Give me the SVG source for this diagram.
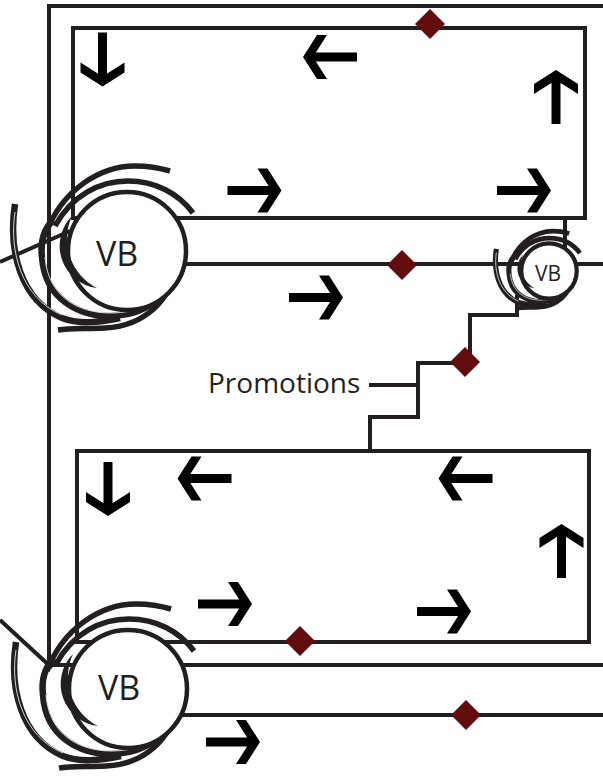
<svg xmlns="http://www.w3.org/2000/svg" xmlns:xlink="http://www.w3.org/1999/xlink" width="603" height="776" viewBox="0 0 603 776">
<style>
.ln{fill:none;stroke:#231f20;stroke-width:4}
.box{fill:none;stroke:#231f20;stroke-width:4}
.sw{fill:none;stroke:#231f20;stroke-width:var(--sw,5.5)}
.swd{fill:none;stroke:#231f20;stroke-width:var(--swd,6.5)}
.hl{fill:none;stroke:#fff;stroke-width:var(--hl,0.8)}
.ring{fill:#fff;stroke:#231f20;stroke-width:var(--rw,4.5)}
.dia{fill:#620c0e}
.arr{fill:#000}
.vb{font-family:"Open Sans","Liberation Sans",sans-serif;fill:#231f20;text-anchor:middle}
.lbl{font-family:"Open Sans","Liberation Sans",sans-serif;fill:#231f20;font-size:28px}
.small{--sw:10;--swd:11;--rw:9;--hl:1.5}
</style>
<defs>
<path id="dia" d="M0,-15 L15,0 L0,15 L-15,0 Z"/>
<path id="arrow" d="M-27,-4.5 H19 V4.5 H-27 Z M3,-22 H13 L27,0 L13,22 H3 L17,0 Z"/>
<g id="swirl">
<g transform="translate(-127,-251)">
<path class="sw" d="M46,233 C62,190 100,166 135,166 C148,166 160,168 170,171"/>
<path class="sw" d="M55,226 C72,195 100,181 128,181 C155,181 178,193 193,213"/>
<path class="swd" d="M15,204 C8,250 20,300 62,318 C80,325 100,322 120,318"/>
<path class="hl" d="M15,212 C9,250 21,298 62,315"/>
<path class="swd" d="M176,268 C168,298 145,315 110,316 C80,316 45,300 42,257 C40,240 45,228 53,220"/>
<path class="hl" d="M170,285 C160,302 140,313 110,313 C80,313 48,298 45,257"/>
<path class="sw" d="M176,268 C170,300 145,326 105,328 C85,329 70,328 58,330"/>
<circle class="ring" cx="127" cy="251" r="59"/>
<path fill="#231f20" d="M72,216 A42.4,42.4 0 0 0 97,288 A55,55 0 0 1 72,216 Z"/>
</g>
</g>
</defs>

<g id="connectors">
<path class="ln" d="M603,6 H49 V665 H603"/>
<path class="ln" d="M0,262 L70,231"/>
<path class="ln" d="M0,620 L52,668"/>
<path class="ln" d="M565,218 V248"/>
<path class="ln" d="M180,264 H603"/>
<path class="ln" d="M180,715 H603"/>
<path class="ln" d="M517,295 V315 H470 V363 H418 V417 H370 V452"/>
<path class="ln" d="M369,385 H416"/>
</g>

<g id="rect-top">
<rect class="box" x="73" y="28" width="512" height="190"/>
<use href="#arrow" class="arr" transform="translate(102.5,59.5) rotate(90)"/>
<use href="#arrow" class="arr" transform="translate(330,57) rotate(180)"/>
<use href="#arrow" class="arr" transform="translate(556,97) rotate(-90)"/>
<use href="#arrow" class="arr" transform="translate(254.5,190.5)"/>
<use href="#arrow" class="arr" transform="translate(524,190.5)"/>
</g>

<g id="rect-bottom">
<rect class="box" x="77" y="451" width="512" height="191"/>
<use href="#arrow" class="arr" transform="translate(108,489) rotate(90)"/>
<use href="#arrow" class="arr" transform="translate(204.5,478.5) rotate(180)"/>
<use href="#arrow" class="arr" transform="translate(465.5,478.5) rotate(180)"/>
<use href="#arrow" class="arr" transform="translate(561.5,551) rotate(-90)"/>
<use href="#arrow" class="arr" transform="translate(225,604)"/>
<use href="#arrow" class="arr" transform="translate(444,611.5)"/>
</g>

<g id="flow-arrows">
<use href="#arrow" class="arr" transform="translate(316,297.5)"/>
<use href="#arrow" class="arr" transform="translate(233,742)"/>
</g>

<g id="vb-upper">
<use href="#swirl" transform="translate(127,251)"/>
<text class="vb" x="117" y="265.5" font-size="34">VB</text>
</g>

<g id="vb-lower">
<use href="#swirl" transform="translate(128,689)"/>
<text class="vb" x="119" y="700" font-size="34">VB</text>
</g>

<g id="vb-small">
<use href="#swirl" class="small" transform="translate(549,271) scale(0.47)"/>
<text class="vb" x="548" y="281" font-size="21">VB</text>
</g>

<g id="diamonds">
<use href="#dia" class="dia" transform="translate(430,24)"/>
<use href="#dia" class="dia" transform="translate(402,265)"/>
<use href="#dia" class="dia" transform="translate(465,362)"/>
<use href="#dia" class="dia" transform="translate(300,641)"/>
<use href="#dia" class="dia" transform="translate(466,715)"/>
</g>

<g id="promotions-label">
<text class="lbl" x="208" y="393">Promotions</text>
</g>
</svg>
